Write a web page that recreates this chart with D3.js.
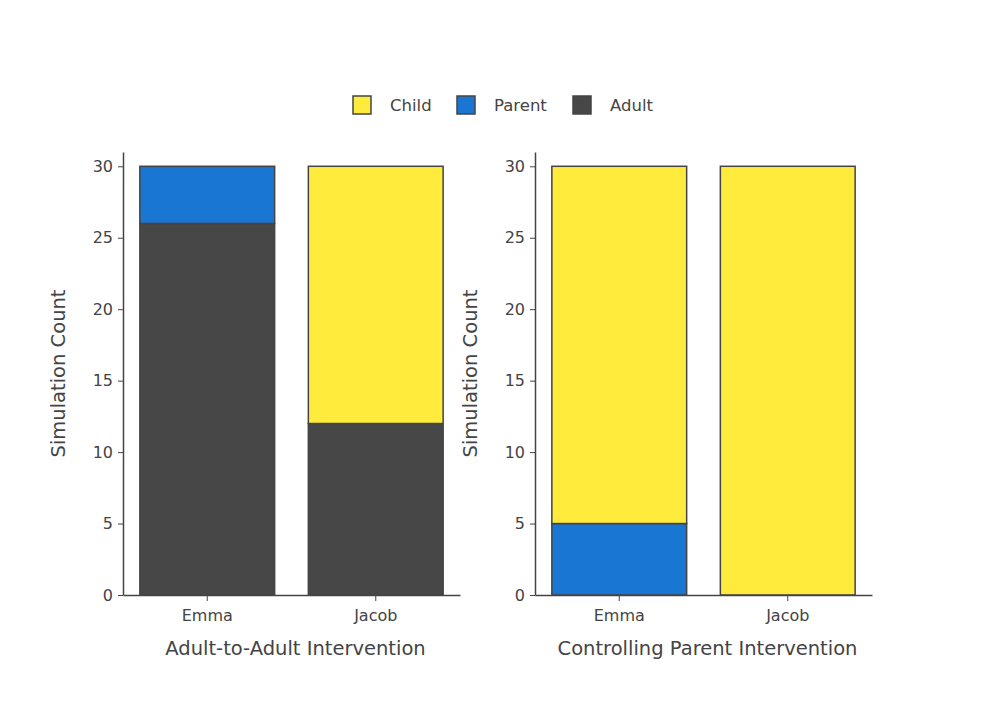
<!DOCTYPE html>
<html>
<head>
<meta charset="utf-8">
<script src="https://cdn.jsdelivr.net/npm/d3@7"></script>
<style>
  body { margin: 0; background: #fff; }
</style>
</head>
<body>
<svg id="chart" width="997" height="712" style="font-family: 'DejaVu Sans', Verdana, sans-serif;"></svg>
<script>
// data
let people = ['Emma', 'Jacob'];
let roles = ['Adult', 'Parent', 'Child'];   // bottom to top
let legendRoles = ['Child', 'Parent', 'Adult'];
let panelTitles = ['Adult-to-Adult Intervention', 'Controlling Parent Intervention'];
let adultCounts = [[26, 12], [0, 0]];
let parentCounts = [[4, 0], [5, 0]];
let childCounts = [[0, 18], [25, 30]];
let yTicks = [0, 5, 10, 15, 20, 25, 30];

let colors = {Child: '#ffeb3b', Parent: '#1976d2', Adult: '#474747'};
let ink = '#444';
let fontFamily = "'DejaVu Sans', Verdana, sans-serif";

let svg = d3.select('#chart');

let plotTop = 152, plotBottom = 595;
let panelX = [123, 535];
let panelW = 337;

let y = d3.scaleLinear().domain([0, 31]).range([plotBottom, plotTop]);

panelTitles.forEach(function(title, p){
    let x0 = panelX[p];
    let x = d3.scaleBand().domain(people).range([x0, x0 + panelW])
        .paddingInner(0.2).paddingOuter(0.1);

    let rows = people.map(function(name, i){
        return {name: name, Adult: adultCounts[p][i], Parent: parentCounts[p][i], Child: childCounts[p][i]};
    });
    let stacked = d3.stack().keys(roles)(rows);

    let g = svg.append('g');

    stacked.forEach(function(layer){
        g.selectAll(null)
            .data(layer.filter(function(d){ return d[1] - d[0] > 0; }))
            .enter()
            .append('rect')
            .attr('x', function(d){ return x(d.data.name); })
            .attr('width', x.bandwidth())
            .attr('y', function(d){ return y(d[1]); })
            .attr('height', function(d){ return y(d[0]) - y(d[1]); })
            .attr('fill', colors[layer.key])
            .attr('stroke', ink)
            .attr('stroke-width', 1.5);
    });

    // y axis
    let yAxis = g.append('g')
        .attr('transform', `translate(${x0},0)`)
        .call(d3.axisLeft(y).tickValues(yTicks).tickSize(5).tickPadding(5).tickSizeOuter(0));
    yAxis.select('.domain').attr('stroke', ink).attr('stroke-width', 1.5);
    yAxis.selectAll('.tick line').attr('stroke', ink).attr('stroke-width', 1);
    yAxis.selectAll('.tick text')
        .style('font-size', '16px').style('font-family', fontFamily).attr('fill', ink);

    // x axis
    let xAxis = g.append('g')
        .attr('transform', `translate(0,${plotBottom})`)
        .call(d3.axisBottom(x).tickSize(6).tickPadding(9).tickSizeOuter(0));
    xAxis.select('.domain').attr('stroke', ink).attr('stroke-width', 1.5);
    xAxis.selectAll('.tick line').attr('stroke', ink).attr('stroke-width', 1);
    xAxis.selectAll('.tick text')
        .style('font-size', '16px').style('font-family', fontFamily).attr('fill', ink);

    g.append('text')
        .attr('x', x0 + panelW / 2 + 4)
        .attr('y', 655)
        .attr('text-anchor', 'middle')
        .style('font-size', '19.5px')
        .attr('fill', ink)
        .text(title);

    g.append('text')
        .attr('transform', `translate(${x0 - 58},${(plotTop + plotBottom) / 2}) rotate(-90)`)
        .attr('text-anchor', 'middle')
        .style('font-size', '19.5px')
        .attr('fill', ink)
        .text('Simulation Count');
});

// legend
let legendX = [353, 457, 573];
let legend = svg.append('g');
legendRoles.forEach(function(r, i){
    legend.append('rect')
        .attr('x', legendX[i])
        .attr('y', 96)
        .attr('width', 18)
        .attr('height', 18)
        .attr('fill', colors[r])
        .attr('stroke', ink)
        .attr('stroke-width', 1.5);
    legend.append('text')
        .attr('x', legendX[i] + 37)
        .attr('y', 111)
        .style('font-size', '16.5px')
        .attr('fill', ink)
        .text(r);
});
</script>
</body>
</html>
